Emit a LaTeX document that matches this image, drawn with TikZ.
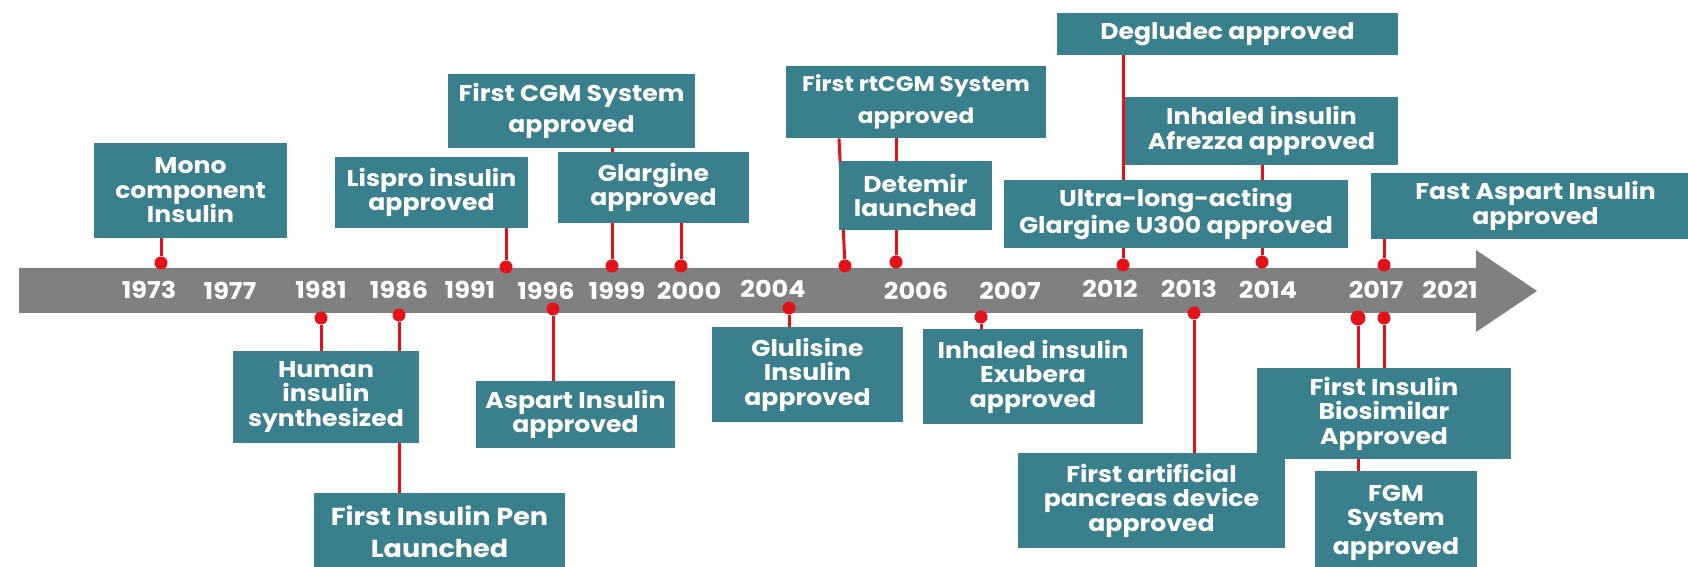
\documentclass[tikz,border=0pt]{standalone}
\usepackage{fontspec}
\setmainfont{Poppins}[FakeStretch=1.1]
\usetikzlibrary{calc,backgrounds}
\definecolor{boxteal}{RGB}{58,127,140}
\definecolor{bargray}{RGB}{128,128,128}
\definecolor{stemred}{RGB}{226,18,24}
\tikzstyle{box}=[rectangle,fill=boxteal,inner sep=0pt,text=white,align=center,anchor=center,font=\fontsize{13}{13.9}\selectfont\bfseries]
\tikzstyle{year}=[text=white,inner sep=0pt,anchor=center,font=\fontsize{13.2}{14}\selectfont\bfseries]
\tikzstyle{dot}=[circle,fill=stemred,inner sep=0pt,minimum size=2.6mm]
\tikzstyle{stem}=[draw=stemred,line width=0.6mm]
\newcommand{\drawaxis}[0]
{
  \fill[bargray] (19,268) -- (1476,268) -- (1476,250) -- (1537,291) -- (1476,332) -- (1476,313) -- (19,313) -- cycle;
  \node[year](y1973) at (149,290){1973};
  \node[year](y1977) at (230,291){1977};
  \node[year](y1981) at (321,290){1981};
  \node[year](y1986) at (399,290){1986};
  \node[year](y1991) at (470,290){1991};
  \node[year](y1996) at (546,291){1996};
  \node[year](y1999) at (617,291){1999};
  \node[year](y2000) at (689,291){2000};
  \node[year](y2004) at (773,289){2004};
  \node[year](y2006) at (916,291){2006};
  \node[year](y2007) at (1010,291){2007};
  \node[year](y2012) at (1110,289){2012};
  \node[year](y2013) at (1189,289){2013};
  \node[year](y2014) at (1268,290){2014};
  \node[year](y2017) at (1376,290){2017};
  \node[year](y2021) at (1450,290){2021};
}

\begin{document}
\begin{tikzpicture}[x=0.2mm,y=-0.2mm]
	\useasboundingbox (0,0) rectangle (1688,567);
	\clip (0,0) rectangle (1688,567);

	\drawaxis{}

	% above the bar
	\node[box, minimum width=38.6mm, minimum height=19mm](mono) at (190.5,190.5){Mono\\component\\Insulin};
	\node[box, minimum width=38.6mm, minimum height=14.2mm](lispro) at (431.5,192.5){Lispro insulin\\approved};
	\node[box, minimum width=49.4mm, minimum height=14.8mm](cgm) at (571.5,111){First CGM System\\[1.2mm]approved};
	\node[box, minimum width=38.2mm, minimum height=14.2mm](glargine) at (653.5,187.5){Glargine\\approved};
	\node[box, minimum width=52mm, minimum height=14.4mm, font=\fontsize{12}{13.9}\selectfont\bfseries](rtcgm) at (916,102){First rtCGM System\\[1.6mm]approved};
	\node[box, minimum width=30.6mm, minimum height=13.8mm](detemir) at (915.5,195.5){Detemir\\launched};
	\node[box, minimum width=68.2mm, minimum height=8.4mm](degludec) at (1227.5,34){Degludec approved};
	\node[box, minimum width=54.6mm, minimum height=13.6mm](afrezza) at (1261.5,131){Inhaled insulin\\Afrezza approved};
	\node[box, minimum width=68.8mm, minimum height=13.6mm](ultra) at (1176,214){Ultra-long-acting\\Glargine U300 approved};
	\node[box, minimum width=65.8mm, minimum height=13.2mm](fast) at (1535.5,206){Fast Aspart Insulin\\approved};

	% below the bar
	\node[box, minimum width=37.2mm, minimum height=18.4mm](human) at (326,397){Human\\insulin\\synthesized};
	\node[box, minimum width=50.2mm, minimum height=15.4mm, font=\fontsize{14}{14.5}\selectfont\bfseries](pen) at (439.5,531.5){First Insulin Pen\\[1.4mm]Launched};
	\node[box, minimum width=39.8mm, minimum height=13.4mm](aspart) at (575.5,414.5){Aspart Insulin\\approved};
	\node[box, minimum width=38.2mm, minimum height=19mm](glulisine) at (807.5,374.5){Glulisine\\Insulin\\approved};
	\node[box, minimum width=44mm, minimum height=19mm](exubera) at (1033,376.5){Inhaled insulin\\Exubera\\approved};
	\node[box, minimum width=50.8mm, minimum height=18.2mm](biosim) at (1384,413.5){First Insulin\\Biosimilar\\Approved};
	\node[box, minimum width=53.4mm, minimum height=19mm](pancreas) at (1151.5,500.5){First artificial\\pancreas device\\approved};
	\node[box, minimum width=32.4mm, minimum height=20.8mm](fgm) at (1396,523){FGM\\System\\[1mm]approved};

	% dots on the bar
	\node[dot](d1973) at (161,263){};
	\node[dot](d1991) at (506,267){};
	\node[dot](d1999) at (612,266){};
	\node[dot](d2000) at (681,266){};
	\node[dot](drt) at (845,266){};
	\node[dot](d2006) at (896,262){};
	\node[dot](d2012) at (1123,265){};
	\node[dot](d2014) at (1262,262){};
	\node[dot](d2017c) at (1384,265){};
	\node[dot](d1981) at (321,318){};
	\node[dot](d1986) at (399,315){};
	\node[dot](d1996) at (553,309){};
	\node[dot](d2004) at (789,308){};
	\node[dot](d2007) at (981,317){};
	\node[dot](d2013) at (1194,313){};
	\node[dot, minimum size=3mm](d2017a) at (1358,318){};
	\node[dot](d2017b) at (1384,318){};

	\begin{scope}[on background layer]
	\draw[stem] (mono.south -| d1973) -- (d1973);
	\draw[stem] (lispro.south -| d1991) -- (d1991);
	\draw[stem] (cgm.south -| d1999) -- (d1999);
	\draw[stem] (glargine.south -| d2000) -- (d2000);
	\draw[stem] ($(rtcgm.south -| drt)+(-6,0)$) -- (drt);
	\draw[stem] (rtcgm.south -| d2006) -- (d2006);
	\draw[stem] (degludec.south -| d2012) -- (d2012);
	\draw[stem] (afrezza.south -| d2014) -- (d2014);
	\draw[stem] (fast.south -| d2017c) -- (d2017c);
	\draw[stem] (d1981) -- (human.north -| d1981);
	\draw[stem] (d1986) -- (pen.north -| d1986);
	\draw[stem] (d1996) -- (aspart.north -| d1996);
	\draw[stem] (d2004) -- (glulisine.north -| d2004);
	\draw[stem] (d2007) -- (exubera.north -| d2007);
	\draw[stem] (d2013) -- (pancreas.north -| d2013);
	\draw[stem] (d2017a) -- (fgm.north -| d2017a);
	\draw[stem] (d2017b) -- (biosim.north -| d2017b);
	\end{scope}

\end{tikzpicture}
\end{document}
